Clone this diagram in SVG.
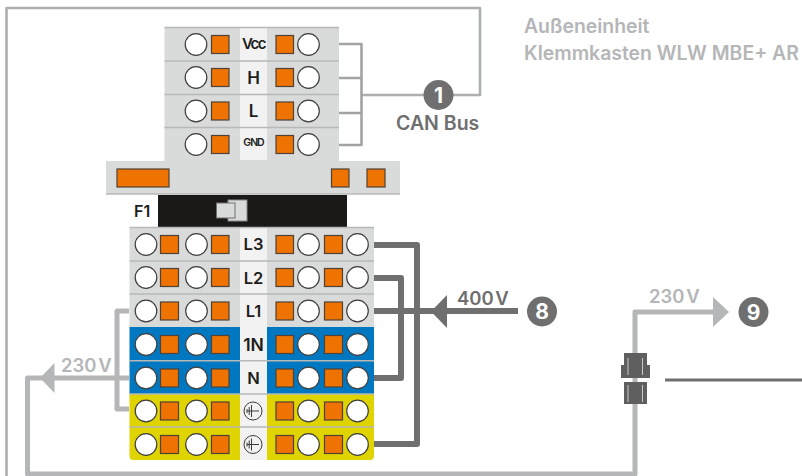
<svg xmlns="http://www.w3.org/2000/svg" width="802" height="476" viewBox="0 0 802 476">
<style>
text{font-family:Inter,"Liberation Sans",Arial,sans-serif;font-weight:600}
.c{fill:#fff;stroke:#3f3f3f;stroke-width:1.2}
.s{fill:#ef7300;stroke:#4f4238;stroke-width:1.2}
.lab{fill:#f2f2f2}
.t{fill:#1d1d1b;text-anchor:middle}
.sep{stroke:#b7b8b8;stroke-width:1.5;fill:none}
.wire{fill:none;stroke-linejoin:round}
.can{stroke:#a3a3a3;stroke-width:2.6}
.outer{stroke:#adaeae;stroke-width:2.6}
.lt{stroke:#b5b6b7;stroke-width:5}
.dk{stroke:#6f6f6f;stroke-width:6}
.badge{fill:#6f6f6f}
.bt{fill:#fff;text-anchor:middle;font-size:21px;font-weight:700}
</style>
<defs>
<g id="top"><circle class="c" cx="196" cy="0" r="10.800"/><rect class="s" x="211.500" y="-9" width="17.500" height="18"/><rect class="s" x="276" y="-9" width="17.500" height="18"/><circle class="c" cx="308.500" cy="0" r="10.800"/></g>
<g id="low"><circle class="c" cx="146" cy="0" r="10.800"/><rect class="s" x="160.500" y="-9" width="18" height="18"/><circle class="c" cx="196.500" cy="0" r="10.800"/><rect class="s" x="211.500" y="-9" width="17.500" height="18"/><rect class="s" x="276" y="-9" width="17.500" height="18"/><circle class="c" cx="308.500" cy="0" r="10.800"/><rect class="s" x="324.500" y="-9" width="18" height="18"/><circle class="c" cx="357.500" cy="0" r="10.800"/></g>
<g id="earth"><circle cx="0" cy="0" r="9" fill="none" stroke="#3c3c3b" stroke-width="1"/><path d="M-6 0H6M-1.500-6V6M-3.800-4V4M-6-2V2" fill="none" stroke="#3c3c3b" stroke-width="1"/></g>
</defs>

<rect width="802" height="476" fill="#fff"/>

<g id="connectors">
<path class="wire outer" d="M6.500 476V8H480V95H362"/>
<path class="wire can" d="M339 44H361.500V145H339M339 78H361.500M339 113H361.500"/>
<path class="wire lt" d="M129 311H117V409H129M129 378H27.500V474H635V312H714"/>
<path d="M54.500 363V393L40 378Z" fill="#b5b6b7"/>
<path d="M713 297V327L729 312Z" fill="#b5b6b7"/>
<path class="wire dk" d="M374 245H417V444H374M374 278H401V378H374M374 311H518"/>
<path d="M447 295V328L431 311.500Z" fill="#6f6f6f"/>
<path d="M665 380H802" stroke="#6f6f6f" stroke-width="3" fill="none"/>
</g>

<g id="can-block">
<rect x="164.500" y="27" width="174.500" height="134" fill="#d9dada"/>
<rect class="lab" x="240" y="28" width="27" height="132"/>
<path class="sep" d="M164.500 27.500H339M164.500 61H339M164.500 94.500H339M164.500 127.500H339"/>
<use href="#top" y="44.500"/><use href="#top" y="77.500"/><use href="#top" y="111"/><use href="#top" y="144.500"/>
<text class="t" x="253.500" y="49" font-size="15" letter-spacing="-1.500">Vcc</text>
<text class="t" x="253.500" y="83.500" font-size="17">H</text>
<text class="t" x="253.500" y="117" font-size="17">L</text>
<text class="t" x="253.500" y="146" font-size="10.500" letter-spacing="-1">GND</text>
</g>

<g id="band">
<rect x="106" y="161" width="294" height="33" fill="#d9dada"/>
<path class="sep" d="M106 194H400"/>
<rect class="s" x="117" y="169" width="52" height="18"/>
<rect class="s" x="331.500" y="169" width="17.500" height="18"/>
<rect class="s" x="367" y="169" width="18" height="18"/>
</g>

<g id="fuse-f1">
<rect x="158" y="195" width="189" height="32" fill="#1a1918"/>
<rect x="228" y="200" width="19" height="21" fill="#d9dada" stroke="#8a8a8a" stroke-width="1"/>
<rect x="216.500" y="203" width="18.500" height="15" fill="#d9dada" stroke="#6f6f6f" stroke-width="1"/>
<text x="134" y="217" font-size="16" fill="#1d1d1b">F1</text>
</g>

<g id="terminal-block">
<rect x="129.500" y="227.500" width="244.500" height="100" fill="#d9dada"/>
<rect x="129.500" y="327" width="244.500" height="67" fill="#0078c1"/>
<path d="M129.500 394H374V456a4 4 0 0 1-4 4H133.500a4 4 0 0 1-4-4Z" fill="#dfd300"/>
<rect class="lab" x="240" y="228" width="27" height="232"/>
<path class="sep" d="M129.500 227.500H374M129.500 261H374M129.500 294H374M129.500 360.700H374M129.500 394H374M129.500 427H374"/>
<use href="#low" y="244.500"/><use href="#low" y="277.500"/><use href="#low" y="311"/><use href="#low" y="344.500"/><use href="#low" y="378"/><use href="#low" y="411"/><use href="#low" y="444.500"/>
<text class="t" x="253.500" y="250" font-size="16.500">L3</text>
<text class="t" x="253.500" y="283.500" font-size="16.500">L2</text>
<text class="t" x="253.500" y="317" font-size="16.500">L1</text>
<text class="t" x="253.500" y="350.500" font-size="17.500">1N</text>
<text class="t" x="253.500" y="384" font-size="16.500">N</text>
<use href="#earth" x="253" y="411"/><use href="#earth" x="253" y="444.500"/>
</g>

<g id="connector-plug">
<path d="M624 353H647V365H650V378H621V365H624Z" fill="#5f5f5f"/>
<rect x="624" y="382" width="23" height="22" fill="#5f5f5f"/>
<path d="M628 358V375M642.500 358V375M628 385V402M642.500 385V402" stroke="#c8c8c8" stroke-width="1" fill="none"/>
</g>

<g id="badge-1"><circle class="badge" cx="438.500" cy="95" r="15"/><text class="bt" x="438.500" y="102.500">1</text></g>
<g id="badge-8"><circle class="badge" cx="542" cy="311.500" r="15"/><text class="bt" x="542" y="319">8</text></g>
<g id="badge-9"><circle class="badge" cx="753.500" cy="312" r="15"/><text class="bt" x="753.500" y="319.500">9</text></g>

<g id="labels">
<text x="524" y="32.500" font-size="19.400" fill="#b5b6b7">Außeneinheit</text>
<text x="524" y="60" font-size="19.400" fill="#b5b6b7">Klemmkasten WLW MBE+ AR</text>
<text x="396" y="130" font-size="19.500" fill="#6f6f6f">CAN Bus</text>
<text x="457" y="305" font-size="18.500" fill="#6f6f6f">400<tspan dx="2">V</tspan></text>
<text x="61" y="372" font-size="18.500" fill="#b5b6b7">230<tspan dx="2">V</tspan></text>
<text x="649" y="303" font-size="18.500" fill="#b5b6b7">230<tspan dx="2">V</tspan></text>
</g>
</svg>
